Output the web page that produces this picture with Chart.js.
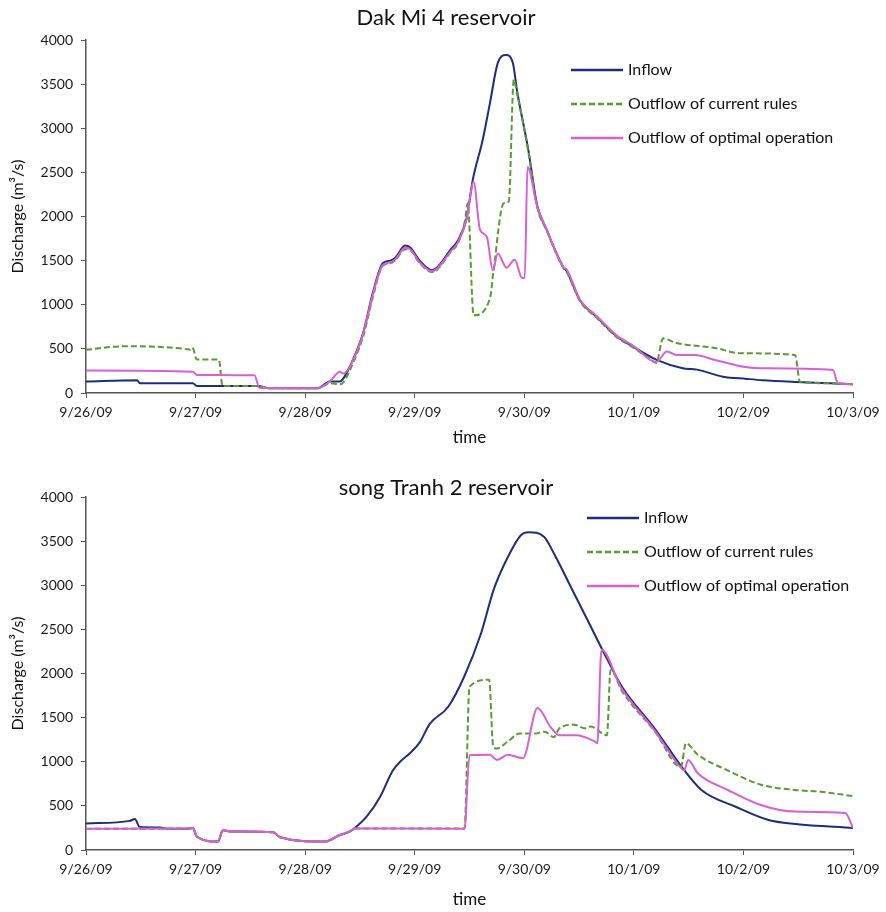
<!DOCTYPE html>
<html lang="en">
<head>
<meta charset="UTF-8">
<title>Dak Mi 4 and song Tranh 2 reservoir discharge</title>
<script src="https://cdn.jsdelivr.net/npm/chart.js@4.4.0/dist/chart.umd.min.js"></script>
<style>
    html, body { margin: 0; padding: 0; background: #fff; }
    canvas { display: block; }
</style>
</head>
<body>

<canvas id="dakMiChart" width="886" height="455"></canvas>
<canvas id="songTranhChart" width="886" height="457"></canvas>

<script>
// x values are hours after 9/26/09 00:00, y values in m3/s
const dayLabels = ['9/26/09', '9/27/09', '9/28/09', '9/29/09', '9/30/09', '10/1/09', '10/2/09', '10/3/09'];
const seriesNames = ['Inflow', 'Outflow of current rules', 'Outflow of optimal operation'];

const dakInflow = [[0,130],[11.2,145],[11.8,110],[23.4,110],[24.3,80],[37.7,80],[39.9,55],[50.8,55],[53.4,130],[55.6,130],[56.3,160],[57.8,300],[60.7,680],[62.8,1130],[65.0,1470],[66.6,1500],[67.7,1530],[69.9,1670],[71.0,1650],[73.1,1500],[75.8,1390],[80.1,1640],[81.5,1730],[83.4,1990],[84.7,2410],[86.9,2870],[88.5,3290],[90.2,3740],[92.0,3830],[93.5,3740],[94.4,3430],[96.9,2750],[98.8,2130],[100.9,1850],[104.5,1430],[105.3,1380],[108.2,1050],[111.9,860],[116.3,640],[120,520],[125,375],[130.7,280],[133.8,265],[139.5,185],[144.7,160],[148.2,145],[155.7,125],[162.9,110],[168,100]];
const dakCurrent = [[0,490],[8.5,530],[21.7,500],[22.8,490],[23.3,515],[24.3,380],[29.1,380],[29.9,80],[37.7,80],[39.9,55],[50.8,55],[53.4,110],[55.6,100],[56.5,130],[57.8,260],[60.7,640],[62.8,1080],[65.0,1440],[66.6,1470],[67.7,1500],[69.9,1630],[71.0,1620],[73.1,1470],[75.8,1370],[80.1,1610],[81.5,1700],[83.0,1950],[83.6,2150],[84.9,880],[88.5,1075],[89.2,1360],[91.5,2150],[92.6,2170],[93.7,3550],[94.4,3400],[96.9,2730],[98.8,2110],[100.9,1840],[104.5,1420],[105.3,1370],[108.2,1040],[111.9,850],[116.3,630],[120,510],[123.4,390],[124.9,340],[126.4,620],[129.1,570],[137.8,510],[143.5,450],[155.3,430],[156.4,125],[162.9,110],[168,100]];
const dakOptimal = [[0,255],[23.4,240],[24.3,205],[36.9,200],[38.0,57],[50.8,55],[53.4,130],[55.6,240],[56.3,220],[57.8,300],[60.7,670],[62.8,1110],[65.0,1450],[66.6,1480],[67.7,1510],[69.9,1650],[71.0,1630],[73.1,1480],[75.8,1380],[80.1,1620],[81.5,1710],[83.4,1970],[84.9,2390],[86.3,1850],[87.8,1770],[89.1,1390],[90.2,1580],[92.1,1420],[93.9,1510],[95.4,1310],[96.1,1300],[96.7,2560],[98.8,2120],[100.9,1850],[104.5,1430],[105.3,1400],[108.2,1060],[111.9,870],[116.3,650],[120,530],[124.9,350],[127.2,470],[129.6,430],[133.3,430],[137.8,375],[144.4,295],[148.2,280],[163.6,260],[164.7,110],[168,100]];

const songInflow = [[0,300],[9.6,330],[10.7,350],[11.8,260],[16.2,255],[18,240],[22.8,245],[23.4,250],[24.3,150],[28.9,95],[30.0,225],[31.5,210],[41.0,200],[42.5,145],[52.3,95],[55.6,170],[57.8,210],[58.9,250],[61.5,380],[64.4,600],[67.2,900],[68.8,1000],[71.0,1100],[73.1,1220],[75.3,1430],[79.3,1620],[82.8,1960],[86.5,2450],[89.3,2950],[92.4,3320],[95.3,3570],[97.0,3600],[100.3,3550],[102.5,3360],[104.0,3210],[106.2,2980],[109.9,2600],[113.1,2270],[117.4,1850],[124.8,1360],[130.5,940],[134.8,680],[142.3,490],[149.5,340],[155.4,295],[168,250]];
const songCurrent = [[0,240],[22.8,245],[23.4,250],[24.3,150],[28.9,95],[30.0,225],[31.5,210],[41.0,200],[42.5,145],[52.3,95],[55.6,170],[57.8,210],[58.9,245],[82.9,245],[84.0,1850],[88.3,1930],[89.2,1170],[90.0,1150],[92.4,1230],[95.0,1320],[98.3,1320],[100.4,1340],[102.5,1280],[103.7,1380],[107.0,1420],[109.2,1380],[110.5,1400],[114.1,1300],[114.9,2040],[117.4,1800],[124.8,1330],[130.3,940],[131.4,1210],[134.0,1080],[140.6,900],[147.8,740],[155.3,680],[161.0,660],[168,610]];
const songOptimal = [[0,240],[22.8,245],[23.4,250],[24.3,150],[28.9,95],[30.0,225],[31.5,210],[41.0,200],[42.5,145],[52.3,95],[55.6,170],[57.8,210],[58.9,245],[82.9,240],[84.0,1075],[88.5,1080],[90.0,1020],[92.4,1080],[95.7,1040],[98.9,1610],[101.8,1390],[103.7,1300],[107.4,1300],[111.4,1230],[112.0,1210],[112.9,2270],[117.2,1840],[124.6,1350],[130.3,930],[131.0,900],[131.9,1020],[134.0,870],[140.6,680],[147.8,510],[155.3,435],[166.3,420],[168,250]];

Chart.defaults.font.family = 'Lato, "Open Sans", sans-serif';
Chart.defaults.color = '#1a1a1a';

// draws the chart title and the frameless legend inside the plot
const titleLegend = {
    id: 'titleLegend',
    afterDraw(chart, args, opts) {
        const ctx = chart.ctx;
        ctx.save();
        ctx.fillStyle = '#111';
        ctx.textBaseline = 'middle';
        ctx.textAlign = 'center';
        ctx.font = '22px Lato';
        ctx.fillText(opts.title, opts.titleX, opts.titleY);
        ctx.textAlign = 'left';
        ctx.font = '16px Lato';
        chart.data.datasets.forEach((ds, i) => {
            const y = opts.legendY + i * 34;
            ctx.strokeStyle = ds.borderColor;
            ctx.lineWidth = ds.borderWidth + 0.5;
            ctx.setLineDash(ds.borderDash || []);
            ctx.beginPath();
            ctx.moveTo(opts.legendX, y);
            ctx.lineTo(opts.legendX + 52, y);
            ctx.stroke();
            ctx.setLineDash([]);
            ctx.fillText(ds.label, opts.legendX + 57, y);
        });
        ctx.restore();
    }
};

const toPoints = arr => arr.map(([x, y]) => ({ x, y }));

function makeChart(id, title, inflow, current, optimal, layout) {
    const axisColor = '#555';
    new Chart(document.getElementById(id), {
        type: 'line',
        data: {
            datasets: [{
                label: seriesNames[0], data: toPoints(inflow),
                borderColor: '#1f2d7c', borderWidth: 2, order: 2
            }, {
                label: seriesNames[1], data: toPoints(current),
                borderColor: '#5a9a33', borderWidth: 2, borderDash: [6, 3], order: 1
            }, {
                label: seriesNames[2], data: toPoints(optimal),
                borderColor: '#d85fd4', borderWidth: 2, order: 0
            }]
        },
        options: {
            responsive: false,
            animation: false,
            events: [],
            elements: { point: { radius: 0 }, line: { cubicInterpolationMode: 'monotone' } },
            layout: { padding: { top: layout.top, right: 33, bottom: 0, left: 0 } },
            plugins: {
                legend: { display: false },
                tooltip: { enabled: false },
                titleLegend: { title, titleX: 446, titleY: layout.titleY, legendX: layout.legendX, legendY: layout.legendY }
            },
            scales: {
                x: {
                    type: 'linear', min: 0, max: 168,
                    ticks: { stepSize: 24, autoSkip: false, maxRotation: 0, padding: 6, font: { size: 14 },
                        callback: v => dayLabels[v / 24] },
                    grid: { drawOnChartArea: false, tickLength: 5, color: axisColor },
                    border: { color: axisColor, width: 1.5 },
                    title: { display: true, text: 'time', font: { size: 17 }, color: '#111',
                        padding: { top: 0, bottom: layout.timePad } },
                    afterFit: s => { s.height = 62; }
                },
                y: {
                    min: 0, max: 4000,
                    ticks: { stepSize: 500, padding: 8, font: { size: 14 }, callback: v => String(v) },
                    grid: { drawOnChartArea: false, tickLength: 5, color: axisColor },
                    border: { color: axisColor, width: 1.5 },
                    title: { display: true, text: 'Discharge (m³/s)', font: { size: 16 }, color: '#111',
                        padding: { top: 8, bottom: 0 } },
                    afterFit: s => { s.width = 86; }
                }
            }
        },
        plugins: [titleLegend]
    });
}

makeChart('dakMiChart', 'Dak Mi 4 reservoir', dakInflow, dakCurrent, dakOptimal,
    { top: 40, titleY: 18, legendX: 571, legendY: 70, timePad: 7 });
makeChart('songTranhChart', 'song Tranh 2 reservoir', songInflow, songCurrent, songOptimal,
    { top: 42, titleY: 33, legendX: 587, legendY: 63, timePad: 2 });
</script>

</body>
</html>
